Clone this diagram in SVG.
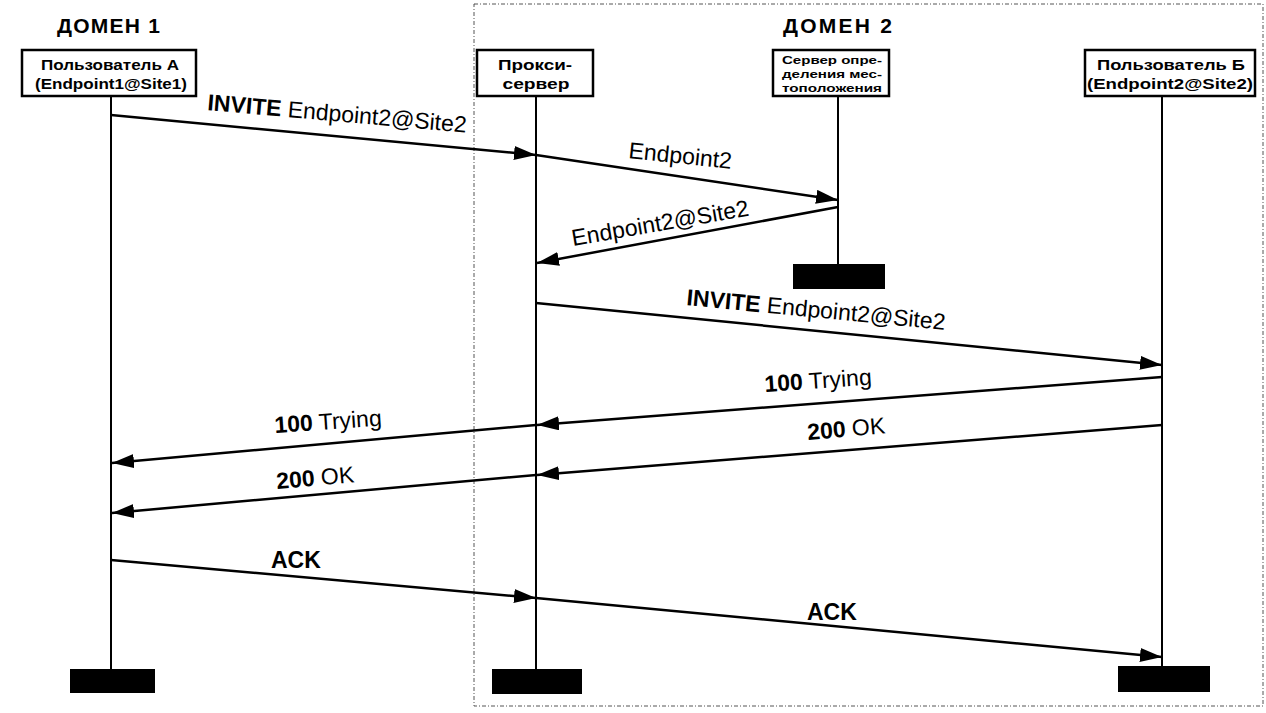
<svg xmlns="http://www.w3.org/2000/svg" width="1266" height="713" viewBox="0 0 1266 713">
<style>
.domain{font-family:"Liberation Sans",Arial,sans-serif;font-weight:bold;font-size:21px;fill:#000}
.box{fill:#fff;stroke:#000;stroke-width:2.5}
.bt{font-family:"Liberation Sans",Arial,sans-serif;font-weight:bold;font-size:14px;fill:#000;text-anchor:middle}
.bts{font-family:"Liberation Sans",Arial,sans-serif;font-weight:bold;font-size:11.5px;fill:#000;text-anchor:middle}
.life{stroke:#000;stroke-width:2}
.end{fill:#000}
.msg{stroke:#000;stroke-width:2.5;fill:none;marker-end:url(#ah)}
.lbl{font-family:"Liberation Sans",Arial,sans-serif;font-size:23px;fill:#000}
.b{font-weight:bold}
.frame{fill:none;stroke:#555;stroke-width:1;stroke-dasharray:4 2 1 2}
</style>
<defs>
<marker id="ah" markerUnits="userSpaceOnUse" markerWidth="24" markerHeight="14" refX="22" refY="7" orient="auto">
<path d="M0,0 L22,7 L0,14 z" fill="#000"/>
</marker>
</defs>
<rect width="1266" height="713" fill="#fff"/>
<rect class="frame" x="474" y="4" width="789" height="702"/>
<text class="domain" x="57" y="33" textLength="103">ДОМЕН 1</text>
<text class="domain" x="783" y="33" textLength="109">ДОМЕН 2</text>

<g id="userA">
<line class="life" x1="111" y1="96" x2="111" y2="670"/>
<rect class="box" x="22" y="50" width="174" height="46"/>
<text class="bt" x="110" y="70" textLength="138" lengthAdjust="spacingAndGlyphs">Пользователь А</text>
<text class="bt" x="111" y="89" textLength="152" lengthAdjust="spacingAndGlyphs">(Endpoint1@Site1)</text>
<rect class="end" x="70" y="669" width="85" height="24"/>
</g>
<g id="proxy">
<line class="life" x1="536" y1="96" x2="536" y2="670"/>
<rect class="box" x="477" y="50" width="116" height="46"/>
<text class="bt" x="535" y="70" textLength="74" lengthAdjust="spacingAndGlyphs">Прокси-</text>
<text class="bt" x="536" y="89" textLength="67" lengthAdjust="spacingAndGlyphs">сервер</text>
<rect class="end" x="492" y="669" width="90" height="25"/>
</g>
<g id="locserver">
<line class="life" x1="838" y1="96" x2="838" y2="266"/>
<rect class="box" x="773" y="50" width="116" height="46"/>
<text class="bts" x="832" y="64" textLength="100" lengthAdjust="spacingAndGlyphs">Сервер опре-</text>
<text class="bts" x="832" y="78" textLength="100" lengthAdjust="spacingAndGlyphs">деления мес-</text>
<text class="bts" x="832" y="92" textLength="100" lengthAdjust="spacingAndGlyphs">тоположения</text>
<rect class="end" x="793" y="264" width="92" height="25"/>
</g>
<g id="userB">
<line class="life" x1="1162" y1="96" x2="1162" y2="668"/>
<rect class="box" x="1085" y="50" width="170" height="46"/>
<text class="bt" x="1171" y="70" textLength="148" lengthAdjust="spacingAndGlyphs">Пользователь Б</text>
<text class="bt" x="1170" y="89" textLength="166" lengthAdjust="spacingAndGlyphs">(Endpoint2@Site2)</text>
<rect class="end" x="1118" y="666" width="92" height="26"/>
</g>

<g id="connectors">
<line class="msg" x1="111" y1="115" x2="536" y2="155"/>
<line class="msg" x1="536" y1="155" x2="838" y2="200"/>
<line class="msg" x1="838" y1="207" x2="537" y2="263"/>
<line class="msg" x1="536" y1="303" x2="1162" y2="365"/>
<line class="msg" x1="1162" y1="377" x2="537" y2="425"/>
<line class="msg" x1="536" y1="425" x2="112" y2="463"/>
<line class="msg" x1="1162" y1="425" x2="537" y2="475"/>
<line class="msg" x1="536" y1="475" x2="112" y2="513"/>
<line class="msg" x1="111" y1="560" x2="536" y2="598"/>
<line class="msg" x1="536" y1="598" x2="1162" y2="657"/>
</g>

<g id="labels">
<text class="lbl" transform="translate(207,110) rotate(5)"><tspan class="b">INVITE</tspan> Endpoint2@Site2</text>
<text class="lbl" transform="translate(628,158) rotate(6)">Endpoint2</text>
<text class="lbl" transform="translate(573,246) rotate(-9.8)">Endpoint2@Site2</text>
<text class="lbl" transform="translate(686,305) rotate(5.5)"><tspan class="b">INVITE</tspan> Endpoint2@Site2</text>
<text class="lbl" transform="translate(765,392) rotate(-4)"><tspan class="b">100</tspan> Trying</text>
<text class="lbl" transform="translate(275,433) rotate(-4)"><tspan class="b">100</tspan> Trying</text>
<text class="lbl" transform="translate(808,440) rotate(-5)"><tspan class="b">200</tspan> OK</text>
<text class="lbl" transform="translate(277,489) rotate(-5)"><tspan class="b">200</tspan> OK</text>
<text class="lbl b" x="271" y="568">ACK</text>
<text class="lbl b" x="807" y="620">ACK</text>
</g>
</svg>
